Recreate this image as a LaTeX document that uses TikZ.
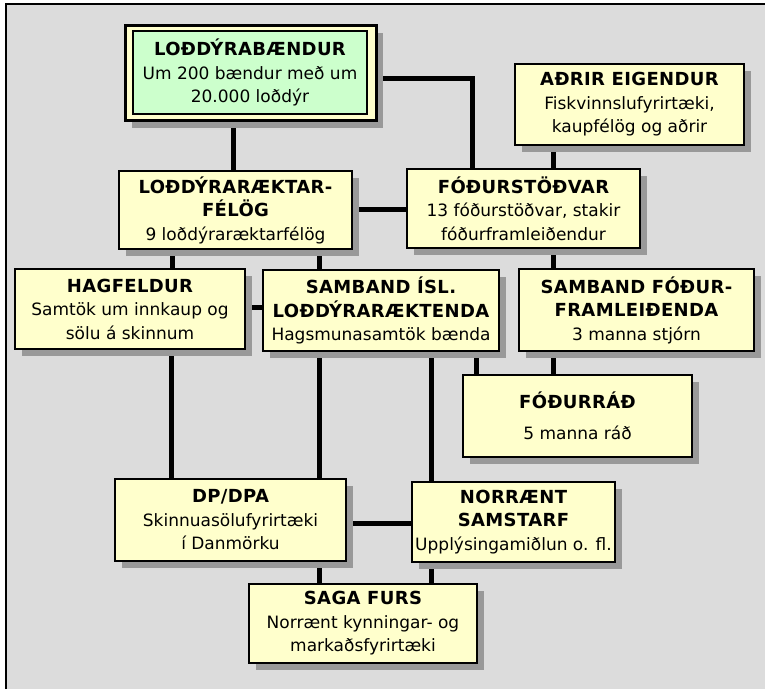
\documentclass[tikz,border=0pt]{standalone}
\usepackage{fontspec}
\setmainfont{DejaVu Sans}
\newfontfamily\tfontbase{DejaVu Sans Bold}[LetterSpace=2]
\newcommand{\tfont}{\tfontbase\fontsize{18}{23.5}\selectfont}
\usetikzlibrary{shadows}
\definecolor{bggray}{HTML}{DCDCDC}
\definecolor{cream}{HTML}{FFFFCC}
\definecolor{mint}{HTML}{CCFFCC}
\definecolor{shgray}{HTML}{999999}
\pgfdeclarelayer{bg}
\pgfdeclarelayer{lines}
\pgfsetlayers{bg,lines,main}
\begin{document}
\begin{tikzpicture}[x=1pt,y=-1pt,
  box/.style={draw=black, line width=1.8pt, fill=cream, align=center, inner sep=0pt,
    font=\fontsize{17}{23.5}\selectfont,
    drop shadow={shadow xshift=7pt, shadow yshift=-7pt, opacity=1, fill=shgray}},
  outerframe/.style={draw=black, line width=3pt, fill=cream, inner sep=0pt,
    drop shadow={shadow xshift=7pt, shadow yshift=-8pt, opacity=1, fill=shgray}},
  innerframe/.style={draw=black, line width=2pt, fill=mint, align=center, inner sep=0pt,
    font=\fontsize{17}{23.5}\selectfont},
  conn/.style={line width=5pt}]
\useasboundingbox (0,0) rectangle (765,689);
\begin{pgfonlayer}{bg}
  \fill[bggray] (6,4) rectangle (765,689);
  \draw[line width=2.5pt] (6,689) -- (6,4) -- (765,4);
\end{pgfonlayer}

\node[outerframe, minimum width=251pt, minimum height=95pt] (topframe) at (250.5,72.5) {};
\node[innerframe, minimum width=234pt, minimum height=83pt] (top) at (250,72.5)
  {{\tfont LOÐDÝRABÆNDUR}\\Um 200 bændur með um\\20.000 loðdýr};

\node[box, minimum width=229pt, minimum height=81pt] (adrir) at (629.5,104.5)
  {{\tfont AÐRIR EIGENDUR}\\Fiskvinnslufyrirtæki,\\kaupfélög og aðrir};
\node[box, minimum width=233pt, minimum height=79pt] (fodur) at (523.5,208.5)
  {{\tfont FÓÐURSTÖÐVAR}\\13 fóðurstöðvar, stakir\\fóðurframleiðendur};
\node[box, minimum width=233pt, minimum height=78pt] (lodfel) at (235.5,210)
  {{\tfont LOÐDÝRARÆKTAR-}\\{\tfont FÉLÖG}\\9 loðdýraræktarfélög};
\node[box, minimum width=230pt, minimum height=80pt] (hagf) at (130,309)
  {{\tfont HAGFELDUR}\\Samtök um innkaup og\\sölu á skinnum};
\node[box, minimum width=236pt, minimum height=81pt] (sil) at (381,310.5)
  {{\tfont SAMBAND ÍSL.}\\{\tfont LOÐDÝRARÆKTENDA}\\Hagsmunasamtök bænda};
\node[box, minimum width=235pt, minimum height=82pt] (sff) at (636.5,310)
  {{\tfont SAMBAND FÓÐUR-}\\{\tfont FRAMLEIÐENDA}\\3 manna stjórn};
\node[box, minimum width=229pt, minimum height=82pt] (fradh) at (577.5,416)
  {{\tfont FÓÐURRÁÐ}\\[7.5pt]5 manna ráð};
\node[box, minimum width=231pt, minimum height=82pt] (dp) at (230.5,520)
  {{\tfont DP/DPA}\\Skinnuasölufyrirtæki\\í Danmörku};
\node[box, minimum width=203pt, minimum height=80pt] (norr) at (513.5,522)
  {{\tfont NORRÆNT}\\{\tfont SAMSTARF}\\Upplýsingamiðlun o. fl.};
\node[box, minimum width=228pt, minimum height=79pt] (saga) at (363,623.5)
  {{\tfont SAGA FURS}\\Norrænt kynningar- og\\markaðsfyrirtæki};

\begin{pgfonlayer}{lines}
  \draw[conn] (topframe.south -| 233,0) -- (lodfel.north -| 233,0);
  \draw[conn] (topframe.east |- 0,78) -| (fodur.north -| 472,0);
  \draw[conn] (adrir.south -| 553,0) -- (fodur.north -| 553,0);
  \draw[conn] (lodfel.east |- 0,209) -- (fodur.west |- 0,209);
  \draw[conn] (lodfel.south -| 172,0) -- (hagf.north -| 172,0);
  \draw[conn] (lodfel.south -| 319,0) -- (sil.north -| 319,0);
  \draw[conn] (hagf.east |- 0,307) -- (sil.west |- 0,307);
  \draw[conn] (fodur.south -| 553,0) -- (sff.north -| 553,0);
  \draw[conn] (sil.south -| 476,0) -- (fradh.north -| 476,0);
  \draw[conn] (sff.south -| 553,0) -- (fradh.north -| 553,0);
  \draw[conn] (hagf.south -| 171,0) -- (dp.north -| 171,0);
  \draw[conn] (sil.south -| 319,0) -- (dp.north -| 319,0);
  \draw[conn] (sil.south -| 431,0) -- (norr.north -| 431,0);
  \draw[conn] (dp.east |- 0,523) -- (norr.west |- 0,523);
  \draw[conn] (dp.south -| 319,0) -- (saga.north -| 319,0);
  \draw[conn] (norr.south -| 431,0) -- (saga.north -| 431,0);
\end{pgfonlayer}
\end{tikzpicture}
\end{document}
